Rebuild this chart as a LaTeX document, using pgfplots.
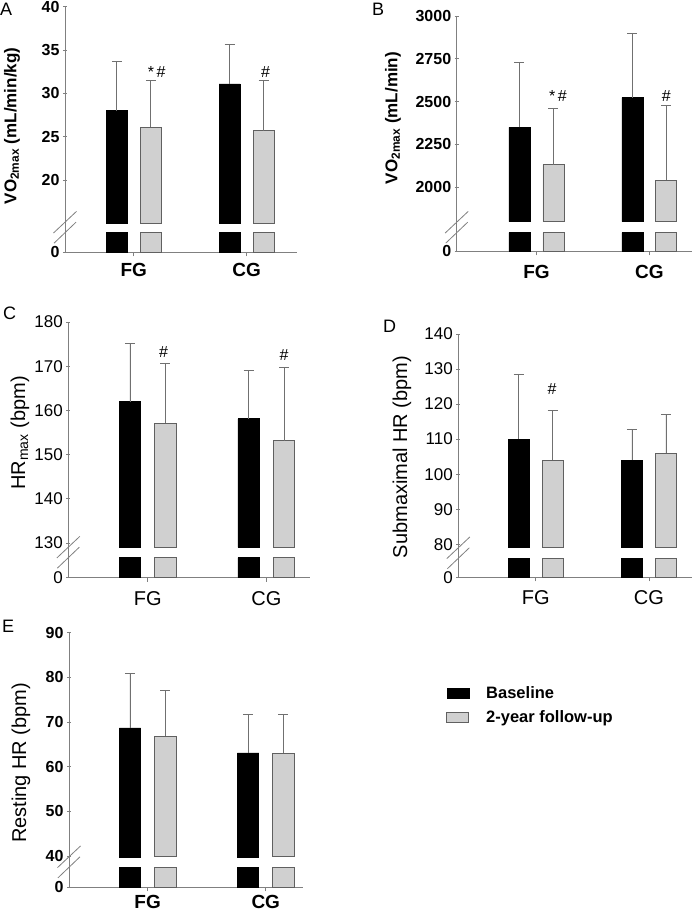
\documentclass[border=0pt]{standalone}
\usepackage{pgfplots}
\usepackage{pgfplotstable}
\pgfplotsset{compat=1.18}
\usepackage{fontspec}
\setmainfont{Liberation Sans}

\definecolor{axgray}{HTML}{808080}
\definecolor{barfill}{HTML}{D0D0D0}
\definecolor{baredge}{HTML}{606060}
\definecolor{errgray}{HTML}{707070}

\newcommand{\fs}[1]{\fontsize{#1}{#1}\selectfont}

% one table per panel: group, baseline mean/SD, follow-up mean/SD
\pgfplotstableread{
x base baseerr fol folerr
1 28.0 5.7 26.1 5.4
2 31.1 4.5 25.7 5.8
}\dataA
\pgfplotstableread{
x base baseerr fol folerr
1 2350 378 2132 331
2 2523 378 2041 436
}\dataB
\pgfplotstableread{
x base baseerr fol folerr
1 162.0 13.2 157.1 13.5
2 158.1 11.0 153.1 16.6
}\dataC
\pgfplotstableread{
x base baseerr fol folerr
1 110.0 18.6 104.0 14.2
2 104.0 8.9 106.0 11.1
}\dataD
\pgfplotstableread{
x base baseerr fol folerr
1 68.7 12.2 66.8 10.2
2 63.1 8.5 63.0 8.6
}\dataE

\tikzset{note/.style={font=\fs{16}, anchor=center, inner sep=0pt}}

\pgfplotsset{
  common/.style={
    scale only axis, anchor=south west,
    axis line style={-, axgray, line width=0.9pt},
    tick style={axgray, line width=0.9pt},
    tick align=outside, major tick length=4pt,
    /pgf/number format/assume math mode=true,
    yticklabel style={font=\fs{17}},
    xticklabel style={font=\fs{20}},
    ylabel style={font=\fs{19}, anchor=center},
    xtick={1,2},
  },
  boldticks/.style={
    yticklabel style={font=\fs{16}\bfseries},
    xticklabel style={font=\fs{19}\bfseries},
  },
  % upper part of a broken axis: bars start at the break value #1
  upper/.style={
    common,
    axis x line=none, axis y line=left,
    y axis line style={-},
    y coord trafo/.code={\pgfmathparse{##1-#1}},
    y coord inv trafo/.code={\pgfmathparse{##1+#1}},
    every axis plot/.append style={
      error bars/y dir=plus, error bars/y explicit,
      error bars/error bar style={errgray, line width=0.8pt},
      error bars/error mark options={rotate=90, errgray, line width=0.8pt, mark size=5pt}},
  },
  % short stub below the break, down to 0
  stub/.style={
    common,
    axis x line=bottom, axis y line=left,
    x axis line style={-}, y axis line style={-},
    ymin=0, ymax=1, ytick={0}, yticklabels={0},
    xticklabels={FG,CG}, clip=false,
    y filter/.code={\pgfmathparse{min(##1,1)}},
  },
  basebar/.style={fill=black, draw=black, line width=0.6pt},
  folbar/.style={fill=barfill, draw=baredge, line width=0.8pt},
}

\begin{document}
\begin{tikzpicture}
\useasboundingbox (0,0) rectangle (693pt,912pt);

% ---------------- A
\begin{axis}[upper=15, boldticks, name=uA, at={(65pt,679.3pt)}, width=231.7pt, height=226pt,
  ybar=13pt, bar width=21pt,
  xmin=0.391, xmax=2.443, ymin=13.92, ymax=40,
  ytick={20,25,30,35,40}, yticklabels={20,25,30,35,40},
  ylabel={VO\textsubscript{2max} (mL/min/kg)},
  ylabel style={at={(axis description cs:-0.229,0.472)}, font=\fs{17}\bfseries}]
\addplot[basebar] table[x=x, y=base, y error=baseerr] {\dataA};
\addplot[folbar] table[x=x, y=fol, y error=folerr] {\dataA};
\node[note, xshift=23pt] at (axis cs:1,32.5) {*\,\#};
\node[note, xshift=19pt] at (axis cs:2,32.5) {\#};
\end{axis}
\begin{axis}[stub, boldticks, name=sA, at={(65pt,659.7pt)}, width=231.7pt, height=19.6pt,
  ybar=13pt, bar width=21pt, xmin=0.391, xmax=2.443,
  xticklabel style={yshift=-3pt}]
\addplot[basebar] table[x=x, y=base] {\dataA};
\addplot[folbar] table[x=x, y=fol] {\dataA};
\end{axis}

% ---------------- B
\begin{axis}[upper=1800, boldticks, name=uB, at={(456.7pt,679.3pt)}, width=235.3pt, height=216.7pt,
  ybar=13pt, bar width=21pt,
  xmin=0.293, xmax=2.378, ymin=1735, ymax=3000,
  ytick={2000,2250,2500,2750,3000}, yticklabels={2000,2250,2500,2750,3000},
  ylabel={VO\textsubscript{2max} (mL/min)},
  ylabel style={at={(axis description cs:-0.271,0.529)}, font=\fs{17}\bfseries}]
\addplot[basebar] table[x=x, y=base, y error=baseerr] {\dataB};
\addplot[folbar] table[x=x, y=fol, y error=folerr] {\dataB};
\node[note, xshift=21.5pt] at (axis cs:1,2535) {*\,\#};
\node[note, xshift=17pt] at (axis cs:2,2535) {\#};
\end{axis}
\begin{axis}[stub, boldticks, name=sB, at={(456.7pt,660.7pt)}, width=235.3pt, height=18.6pt,
  ybar=13pt, bar width=21pt, xmin=0.293, xmax=2.378,
  xticklabel style={yshift=-6.5pt}]
\addplot[basebar] table[x=x, y=base] {\dataB};
\addplot[folbar] table[x=x, y=fol] {\dataB};
\end{axis}

% ---------------- C
\begin{axis}[upper=129, name=uC, at={(68.3pt,354.3pt)}, width=241.7pt, height=235.7pt,
  ybar=14pt, bar width=21.4pt,
  xmin=0.331, xmax=2.368, ymin=126.67, ymax=180,
  ytick={130,140,150,160,170,180}, yticklabels={130,140,150,160,170,180},
  ylabel={HR\textsubscript{max} (bpm)},
  ylabel style={at={(axis description cs:-0.2,0.53)}, font=\fs{20}}]
\addplot[basebar] table[x=x, y=base, y error=baseerr] {\dataC};
\addplot[folbar] table[x=x, y=fol, y error=folerr] {\dataC};
\node[note, xshift=16pt] at (axis cs:1,173.1) {\#};
\node[note, xshift=17.7pt] at (axis cs:2,172.6) {\#};
\end{axis}
\begin{axis}[stub, name=sC, at={(68.3pt,334.3pt)}, width=241.7pt, height=20pt,
  ybar=14pt, bar width=21.4pt, xmin=0.331, xmax=2.368,
  xticklabel style={yshift=-6pt}]
\addplot[basebar] table[x=x, y=base] {\dataC};
\addplot[folbar] table[x=x, y=fol] {\dataC};
\end{axis}

% ---------------- D
\begin{axis}[upper=79, name=uD, at={(458.3pt,353.7pt)}, width=233.7pt, height=224.3pt,
  ybar=13pt, bar width=21pt,
  xmin=0.317, xmax=2.38, ymin=76, ymax=140,
  ytick={80,90,100,110,120,130,140}, yticklabels={80,90,100,110,120,130,140},
  ylabel={Submaximal HR (bpm)},
  ylabel style={at={(axis description cs:-0.241,0.452)}, font=\fs{20}}]
\addplot[basebar] table[x=x, y=base, y error=baseerr] {\dataD};
\addplot[folbar] table[x=x, y=fol, y error=folerr] {\dataD};
\node[note, xshift=16.5pt] at (axis cs:1,124.3) {\#};
\end{axis}
\begin{axis}[stub, name=sD, at={(458.3pt,334.7pt)}, width=233.7pt, height=19pt,
  ybar=13pt, bar width=21pt, xmin=0.317, xmax=2.38,
  xticklabel style={yshift=-6pt}]
\addplot[basebar] table[x=x, y=base] {\dataD};
\addplot[folbar] table[x=x, y=fol] {\dataD};
\end{axis}

% ---------------- E
\begin{axis}[upper=39.8, boldticks, name=uE, at={(69pt,44.7pt)}, width=234.3pt, height=234.6pt,
  ybar=14pt, bar width=21.4pt,
  xmin=0.334, xmax=2.318, ymin=37.47, ymax=90,
  ytick={40,50,60,70,80,90}, yticklabels={40,50,60,70,80,90},
  ylabel={Resting HR (bpm)},
  ylabel style={at={(axis description cs:-0.205,0.445)}, font=\fs{20}},
  legend style={at={(axis description cs:1.61,0.78)}, anchor=north west,
    draw=none, fill=none, font=\fs{16.5}\bfseries, inner sep=0pt, row sep=7pt,
    column sep=15pt},
  legend cell align=left,
  legend image code/.code={\draw[#1] (0pt,-5pt) rectangle (22pt,5pt);}]
\addplot[basebar] table[x=x, y=base, y error=baseerr] {\dataE};
\addlegendentry{Baseline}
\addplot[folbar] table[x=x, y=fol, y error=folerr] {\dataE};
\addlegendentry{2-year follow-up}
\end{axis}
\begin{axis}[stub, boldticks, name=sE, at={(69pt,24.7pt)}, width=234.3pt, height=20pt,
  ybar=14pt, bar width=21.4pt, xmin=0.334, xmax=2.318,
  xticklabel style={yshift=0pt}]
\addplot[basebar] table[x=x, y=base] {\dataE};
\addplot[folbar] table[x=x, y=fol] {\dataE};
\end{axis}

% axis break marks and panel letters
\foreach \p in {A,B,C,D,E} {
  \draw[axgray, line width=0.8pt] ([shift={(-11.5pt,-0.3pt)}]u\p.south west) -- ++(23pt,21.6pt);
  \draw[axgray, line width=0.8pt] ([shift={(-11pt,-10.5pt)}]u\p.south west) -- ++(22pt,21pt);
}
\node[anchor=north west, inner sep=0pt, font=\fs{18}] at (0pt,909pt) {A};
\node[anchor=north west, inner sep=0pt, font=\fs{18}] at (372pt,909pt) {B};
\node[anchor=north west, inner sep=0pt, font=\fs{18}] at (3pt,605pt) {C};
\node[anchor=north west, inner sep=0pt, font=\fs{18}] at (383pt,592pt) {D};
\node[anchor=north west, inner sep=0pt, font=\fs{18}] at (2pt,292pt) {E};
\end{tikzpicture}
\end{document}
